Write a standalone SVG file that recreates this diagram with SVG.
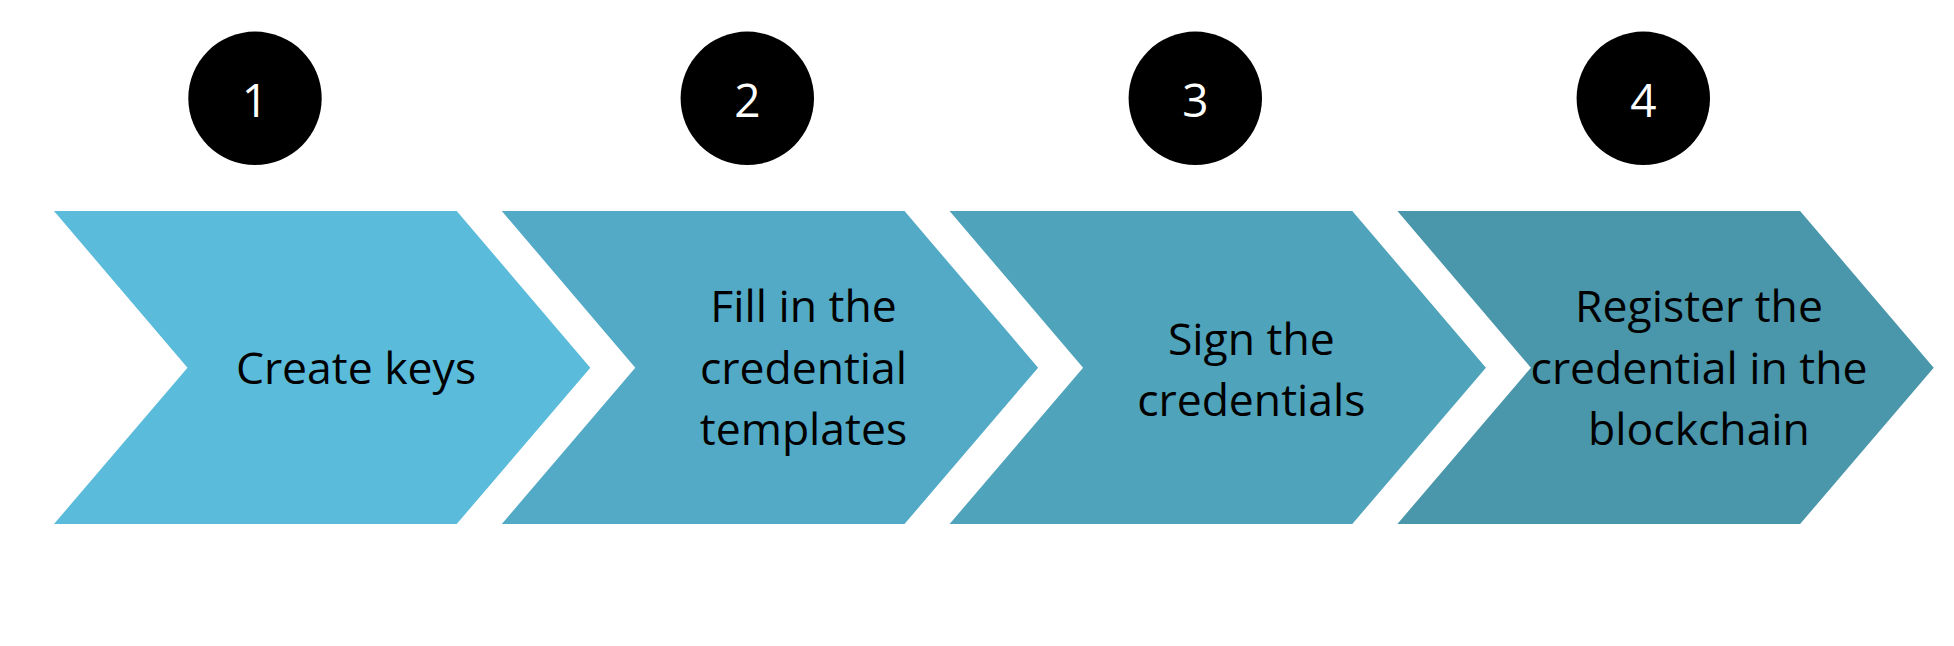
<svg xmlns="http://www.w3.org/2000/svg" width="1954" height="646" viewBox="0 0 1954 646">
  <style>
    .lbl { font-family: "Open Sans", "Noto Sans", "Liberation Sans", sans-serif; font-size: 44.5px; fill: #000000; text-anchor: middle; }
    .num { font-family: "Open Sans", "Noto Sans", "Liberation Sans", sans-serif; font-size: 46px; fill: #ffffff; text-anchor: middle; }
    .badge { fill: #000000; }
  </style>
  <defs>
    <path id="chev" d="M0,0 H402.7 L536.3,156.7 L402.7,313 H0 L133.5,156.7 Z"/>
  </defs>
  <rect width="1954" height="646" fill="#ffffff"/>
  <g id="connectors"></g>
  <g id="step1">
    <use href="#chev" x="54" y="211" fill="#5ABBDA"/>
    <text class="lbl" x="356" y="384.3">Create keys</text>
  </g>
  <g id="step2">
    <use href="#chev" x="501.8" y="211" fill="#52AAC6"/>
    <text class="lbl" x="803.5" y="322.3">Fill in the</text>
    <text class="lbl" x="803.5" y="383.8">credential</text>
    <text class="lbl" x="803.5" y="445.3">templates</text>
  </g>
  <g id="step3">
    <use href="#chev" x="949.6" y="211" fill="#4FA3BA"/>
    <text class="lbl" x="1251.3" y="354.5">Sign the</text>
    <text class="lbl" x="1251.3" y="416">credentials</text>
  </g>
  <g id="step4">
    <use href="#chev" x="1397.4" y="211" fill="#4A96AA"/>
    <text class="lbl" x="1699" y="322.3">Register the</text>
    <text class="lbl" x="1699" y="383.8">credential in the</text>
    <text class="lbl" x="1699" y="445.3">blockchain</text>
  </g>
  <g id="badge1">
    <circle class="badge" cx="255" cy="98.3" r="66.7"/>
    <text class="num" x="255" y="116.5">1</text>
  </g>
  <g id="badge2">
    <circle class="badge" cx="747.3" cy="98.3" r="66.7"/>
    <text class="num" x="747.3" y="116.5">2</text>
  </g>
  <g id="badge3">
    <circle class="badge" cx="1195.3" cy="98.3" r="66.7"/>
    <text class="num" x="1195.3" y="116.5">3</text>
  </g>
  <g id="badge4">
    <circle class="badge" cx="1643.3" cy="98.3" r="66.7"/>
    <text class="num" x="1643.3" y="116.5">4</text>
  </g>
</svg>
